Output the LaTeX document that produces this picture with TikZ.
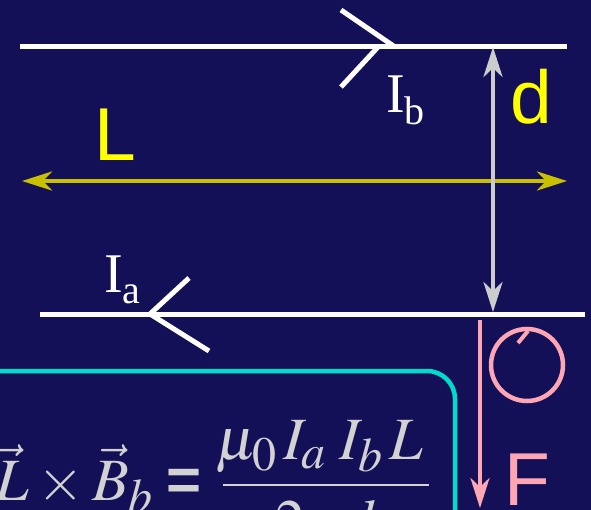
\documentclass[tikz,border=0pt]{standalone}
\usepackage{mathptmx}
\usepackage{fontspec}
\setmainfont{Liberation Serif}
\newfontfamily\arialf{Liberation Sans}
\DeclareMathSizes{60}{60}{48}{40}
\usetikzlibrary{arrows.meta}
\definecolor{bgnavy}{RGB}{20,16,88}
\definecolor{wireyel}{RGB}{200,192,0}
\definecolor{labyel}{RGB}{255,255,0}
\definecolor{dgray}{RGB}{204,204,204}
\definecolor{fpink}{RGB}{255,166,180}
\definecolor{boxcyan}{RGB}{0,220,204}
\definecolor{eqgray}{RGB}{210,210,210}
\tikzset{
  tipS/.tip={Stealth[length=30pt, width=19pt, inset=9pt]},
  wire/.style={white, line width=5pt},
  chev/.style={white, line width=5pt},
  bigsans/.style={inner sep=0pt, anchor=base west, font=\arialf\fontsize{75}{80}\selectfont},
  curlab/.style={inner sep=0pt, anchor=base west, text=white},
  formula/.style={inner sep=0pt, anchor=base west, text=eqgray, font=\fontsize{60}{72}\selectfont}
}
\begin{document}
\begin{tikzpicture}[x=1pt,y=-1pt]
\fill[bgnavy] (0,0) rectangle (591,510);
\useasboundingbox (0,0) rectangle (591,510);
\clip (0,0) rectangle (591,510);
% wires
\coordinate (tw1) at (20,47); \coordinate (tw2) at (567,47);
\coordinate (bw1) at (40,314); \coordinate (bw2) at (585,314);
\draw[wire] (tw1) -- (tw2);
\draw[wire] (bw1) -- (bw2);
% chevrons
\coordinate (tcA) at (341,10); \coordinate (tcT) at (395,47); \coordinate (tcB) at (341,87); \coordinate (tcM) at (378,47);
\draw[chev] (tcA) -- (tcT);
\draw[chev] (tcB) -- (tcM);
\coordinate (bcT) at (150,314); \coordinate (bcA) at (189,278); \coordinate (bcB) at (209,351);
\draw[chev] (bcT) -- (bcA);
\draw[chev] (bcT) -- (bcB);
% current labels
\node[curlab] (Ib) at (386,113) {\fontsize{56}{60}\selectfont I\raisebox{-12pt}{\fontsize{40}{40}\selectfont b}};
\node[curlab] (Ia) at (104,293) {\fontsize{56}{60}\selectfont I\raisebox{-10pt}{\fontsize{40}{40}\selectfont a}};
% L arrow
\coordinate (La) at (22,181); \coordinate (Lb) at (567,181);
\draw[wireyel, line width=4.5pt, tipS-tipS] (La) -- (Lb);
\node[bigsans, text=labyel] (Llab) at (94.5,161) {L};
% d arrow
\coordinate (da) at (493,47); \coordinate (db) at (493,312);
\draw[dgray, line width=4pt, tipS-tipS] (da) -- (db);
\node[bigsans, text=labyel] (dlab) at (510,124) {d};
% F arrow
\coordinate (Fa) at (480,320); \coordinate (Fb) at (480,508);
\draw[fpink, line width=4pt, -tipS] (Fa) -- (Fb);
\node[bigsans, text=fpink] (Flab) at (504,505) {F};
% circle symbol
\node[draw=fpink, line width=4.5pt, circle, minimum size=72pt, inner sep=0pt] (circ) at (527,365) {};
\coordinate (tk1) at (518,343); \coordinate (tk2) at (528,331);
\draw[fpink, line width=4pt] (tk1) -- (tk2);
% formula box
\draw[boxcyan, line width=4.5pt, rounded corners=28pt] (-30,560) -- (-30,371) -- (455,371) -- (455,560);
\node[formula] (eq) at (-5,500) {$\vec{L}\times\vec{B}_b\mathrel{\hbox{\arialf\bfseries =}}\mkern2mu\displaystyle\frac{\mkern-2mu\mu_0\mkern2mu I_a\mkern4mu I_b\mkern2mu L\mkern2mu}{2\pi d}$};
\end{tikzpicture}
\end{document}
